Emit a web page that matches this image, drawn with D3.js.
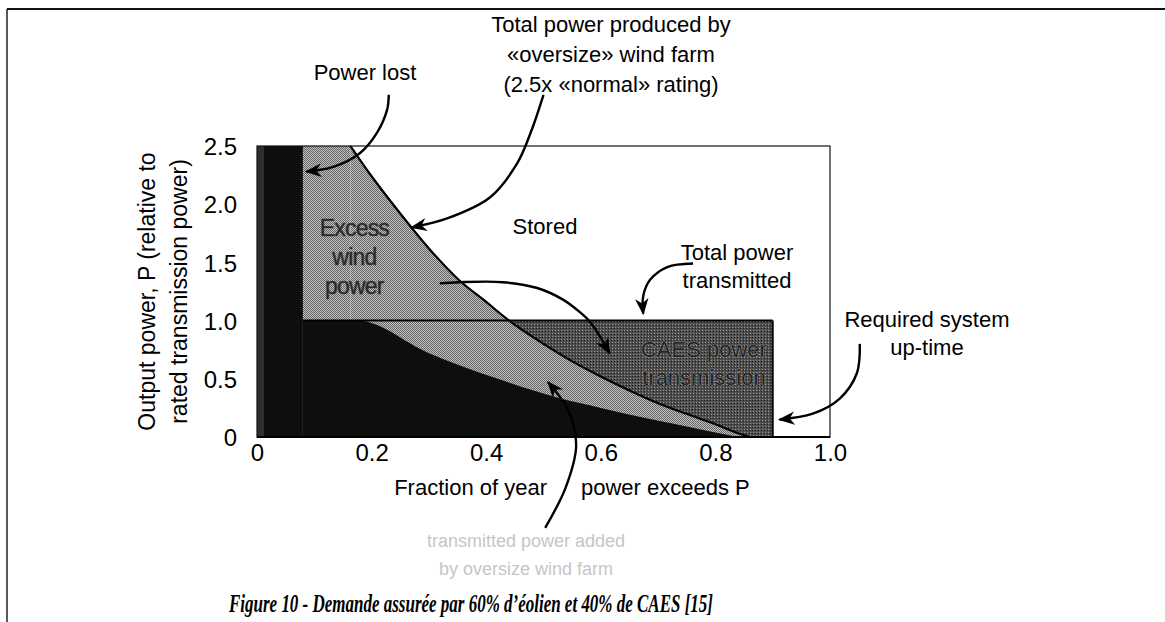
<!DOCTYPE html>
<html>
<head>
<meta charset="utf-8">
<script src="https://cdn.jsdelivr.net/npm/d3@7"></script>
<style>
  body { margin: 0; background: #fff; }
  svg { font-family: Arial, "Liberation Sans", sans-serif; }
</style>
</head>
<body>
<script>
// ---- data ----
var xTicks = [0, 0.2, 0.4, 0.6, 0.8, 1.0];
var xTickLabels = ["0", "0.2", "0.4", "0.6", "0.8", "1.0"];
var yTicks = [0, 0.5, 1.0, 1.5, 2.0, 2.5];
var yTickLabels = ["0", "0.5", "1.0", "1.5", "2.0", "2.5"];

var peakPower = 2.5;      // oversize farm rating
var ratedPower = 1.0;     // transmission rating
var lostFraction = 0.08;  // strip where power is lost
var upTime = 0.9;         // required system up-time

// duration curve of the oversize (2.5x) wind farm, after it leaves the 2.5 cap
var oversizeCurve = [[0.163, 2.5], [0.2, 2.24], [0.25, 1.92], [0.3, 1.62], [0.35, 1.36],
  [0.4, 1.16], [0.44, 1.0], [0.5, 0.8], [0.55, 0.65], [0.6, 0.52], [0.65, 0.4],
  [0.7, 0.29], [0.76, 0.18], [0.8, 0.11], [0.83, 0.05], [0.86, 0]];

// power sent straight to the line by a normal farm
var directCurve = [[0.08, 1.0], [0.175, 1.0], [0.3, 0.72], [0.42, 0.5], [0.53, 0.33],
  [0.6, 0.25], [0.69, 0.15], [0.76, 0.08], [0.84, 0]];

// annotation arrows, in (fraction, P) units
var arrowLost = [[0.23, 2.94], [0.227, 2.81], [0.209, 2.61], [0.18, 2.44], [0.133, 2.32], [0.086, 2.28]];
var arrowProduced = [[0.5, 2.94], [0.478, 2.62], [0.454, 2.35], [0.407, 2.06], [0.333, 1.88], [0.27, 1.8]];
var arrowStored = [[0.319, 1.32], [0.354, 1.33], [0.429, 1.33], [0.489, 1.28], [0.534, 1.18],
  [0.564, 1.07], [0.581, 0.99], [0.599, 0.86], [0.615, 0.72]];
var arrowTransmitted = [[0.761, 1.49], [0.716, 1.46], [0.686, 1.35], [0.674, 1.21], [0.674, 1.06]];
var arrowUptime = [[1.052, 0.8], [1.047, 0.55], [1.017, 0.33], [0.97, 0.2], [0.912, 0.15]];
var arrowAdded = [[0.503, -0.78], [0.539, -0.43], [0.557, -0.07], [0.543, 0.23], [0.508, 0.47]];

var width = 1165;
var height = 622;

var svg = d3.select("body").append("svg")
  .attr("width", width)
  .attr("height", height);

var x = d3.scaleLinear().domain([0, 1]).range([257, 830]);
var y = d3.scaleLinear().domain([0, 2.5]).range([437, 146]);

var defs = svg.append("defs");

// halftone grey of the scanned figure
var half = defs.append("pattern").attr("id", "half")
  .attr("width", 2).attr("height", 2).attr("patternUnits", "userSpaceOnUse");
half.append("rect").attr("width", 2).attr("height", 2).attr("fill", "#c0c0c0");
half.append("rect").attr("width", 1).attr("height", 1).attr("fill", "#666");
half.append("rect").attr("x", 1).attr("y", 1).attr("width", 1).attr("height", 1).attr("fill", "#666");

var caes = defs.append("pattern").attr("id", "caes")
  .attr("width", 3).attr("height", 3).attr("patternUnits", "userSpaceOnUse");
caes.append("rect").attr("width", 3).attr("height", 3).attr("fill", "#4e4e4e");
caes.append("rect").attr("width", 1).attr("height", 1).attr("fill", "#999");
caes.append("rect").attr("x", 2).attr("y", 1).attr("width", 1).attr("height", 1).attr("fill", "#1e1e1e");

defs.append("marker").attr("id", "head")
  .attr("viewBox", "0 0 10 10").attr("refX", 9).attr("refY", 5)
  .attr("markerWidth", 7).attr("markerHeight", 7).attr("markerUnits", "strokeWidth")
  .attr("orient", "auto")
  .append("path").attr("d", "M0,1 L10,5 L0,9 L3,5 Z").attr("fill", "#000");

// outer page frame
svg.append("line").attr("x1", 7).attr("y1", 9).attr("x2", width).attr("y2", 9)
  .attr("stroke", "#111").attr("stroke-width", 2);
svg.append("line").attr("x1", 7).attr("y1", 9).attr("x2", 7).attr("y2", height)
  .attr("stroke", "#222").attr("stroke-width", 1.5);

// CAES block first, the wind areas cover its left part
svg.append("rect")
  .attr("x", x(0)).attr("y", y(ratedPower))
  .attr("width", x(upTime) - x(0)).attr("height", y(0) - y(ratedPower))
  .attr("fill", "url(#caes)");

// everything the oversize farm produces
svg.append("rect")
  .attr("x", x(0)).attr("y", y(peakPower))
  .attr("width", x(oversizeCurve[0][0]) - x(0)).attr("height", y(0) - y(peakPower))
  .attr("fill", "url(#half)");

var areaUnder = d3.area()
  .x(function(d) { return x(d[0]); })
  .y0(y(0))
  .y1(function(d) { return y(d[1]); })
  .curve(d3.curveMonotoneX);

svg.append("path").datum(oversizeCurve)
  .attr("d", areaUnder)
  .attr("fill", "url(#half)");

// direct transmission and lost strip (black)
svg.append("path").datum(directCurve)
  .attr("d", areaUnder)
  .attr("fill", "#0e0e0e");
svg.append("rect")
  .attr("x", x(0)).attr("y", y(peakPower))
  .attr("width", x(lostFraction) - x(0)).attr("height", y(0) - y(peakPower))
  .attr("fill", "#0e0e0e");
svg.append("rect")
  .attr("x", x(0)).attr("y", y(peakPower))
  .attr("width", 7).attr("height", y(0) - y(peakPower))
  .attr("fill", "#2e2e2e");

// plot frame
svg.append("rect")
  .attr("x", x(0)).attr("y", y(peakPower))
  .attr("width", x(1) - x(0)).attr("height", y(0) - y(peakPower))
  .attr("fill", "none").attr("stroke", "#111").attr("stroke-width", 1.2);

// rated power line and up-time edge
svg.append("line")
  .attr("x1", x(lostFraction)).attr("y1", y(ratedPower))
  .attr("x2", x(upTime)).attr("y2", y(ratedPower))
  .attr("stroke", "#000").attr("stroke-width", 2);
svg.append("line")
  .attr("x1", x(upTime)).attr("y1", y(ratedPower))
  .attr("x2", x(upTime)).attr("y2", y(0))
  .attr("stroke", "#000").attr("stroke-width", 2);
svg.append("line")
  .attr("x1", x(0)).attr("y1", y(0))
  .attr("x2", x(1)).attr("y2", y(0))
  .attr("stroke", "#000").attr("stroke-width", 2);

var line = d3.line()
  .x(function(d) { return x(d[0]); })
  .y(function(d) { return y(d[1]); })
  .curve(d3.curveMonotoneX);

svg.append("path").datum(oversizeCurve)
  .attr("d", line)
  .attr("fill", "none").attr("stroke", "#000").attr("stroke-width", 2.2);

// axes (labels only)
var xAxis = svg.append("g")
  .attr("transform", "translate(0," + (y(0) + 4) + ")")
  .call(d3.axisBottom(x).tickValues(xTicks).tickSize(0)
    .tickFormat(function(d, i) { return xTickLabels[i]; }));
xAxis.select(".domain").remove();
xAxis.selectAll("text").style("font-size", "24px").style("font-family", "Arial, 'Liberation Sans', sans-serif")
  .attr("fill", "#000").attr("dy", "0.71em");

var yAxis = svg.append("g")
  .attr("transform", "translate(" + (x(0) - 20) + ",0)")
  .call(d3.axisLeft(y).tickValues(yTicks).tickSize(0)
    .tickFormat(function(d, i) { return yTickLabels[i]; }));
yAxis.select(".domain").remove();
yAxis.selectAll("text").style("font-size", "24px").style("font-family", "Arial, 'Liberation Sans', sans-serif")
  .attr("fill", "#000").attr("x", 0).attr("dy", "0.36em");

var yMid = (y(0) + y(peakPower)) / 2;
svg.append("text")
  .attr("transform", "translate(155," + yMid + ") rotate(-90)")
  .attr("text-anchor", "middle").attr("font-size", 23)
  .text("Output power, P (relative to");
svg.append("text")
  .attr("transform", "translate(187," + yMid + ") rotate(-90)")
  .attr("text-anchor", "middle").attr("font-size", 23)
  .text("rated transmission power)");

// x title, split where the arrow crosses it
svg.append("text")
  .attr("x", 547).attr("y", 495)
  .attr("text-anchor", "end").attr("font-size", 22)
  .text("Fraction of year");
svg.append("text")
  .attr("x", 581).attr("y", 495)
  .attr("text-anchor", "start").attr("font-size", 22)
  .text("power exceeds P");

// helper for multi-line labels
function label(lines, cx, cy, size, gap, fill) {
  var t = svg.append("text")
    .attr("text-anchor", "middle").attr("font-size", size)
    .attr("fill", fill || "#000");
  lines.forEach(function(s, i) {
    t.append("tspan").attr("x", cx).attr("y", cy + i * gap).text(s);
  });
  return t;
}

label(["Total power produced by", "\u00aboversize\u00bb wind farm", "(2.5x \u00abnormal\u00bb rating)"],
  611, 32, 22, 30);
label(["Power lost"], 365, 80, 22, 28);
label(["Excess", "wind", "power"], x(0.17), 236, 23, 29, "#262626")
  .attr("letter-spacing", -0.8)
  .attr("stroke", "#3a3a3a").attr("stroke-width", 0.5);
label(["Stored"], 545, 234, 22, 28);
label(["Total power", "transmitted"], 737, 260, 22, 28);
label(["Required system", "up-time"], 927, 327, 22, 28);
label(["CAES power", "transmission"], x(0.78), y(0.69), 22, 28, "#222")
  .attr("stroke", "#a8a8a8").attr("stroke-width", 0.7).attr("paint-order", "stroke");
label(["transmitted power added", "by oversize wind farm"], 526, 547, 18, 28, "#c6c6c6");

// arrows
[arrowLost, arrowProduced, arrowStored, arrowTransmitted, arrowUptime, arrowAdded].forEach(function(pts) {
  svg.append("path").datum(pts)
    .attr("d", d3.line()
      .x(function(d) { return x(d[0]); })
      .y(function(d) { return y(d[1]); })
      .curve(d3.curveCatmullRom))
    .attr("fill", "none").attr("stroke", "#000").attr("stroke-width", 2.4)
    .attr("marker-end", "url(#head)");
});

// caption
svg.append("text")
  .attr("x", 471).attr("y", 612)
  .attr("text-anchor", "middle")
  .style("font-family", "'Liberation Serif', 'DejaVu Serif', serif")
  .style("font-style", "italic").style("font-weight", "bold")
  .style("font-size", "26px")
  .attr("textLength", 484).attr("lengthAdjust", "spacingAndGlyphs")
  .text("Figure 10 - Demande assur\u00e9e par 60% d\u2019\u00e9olien et 40% de CAES [15]");
</script>
</body>
</html>
